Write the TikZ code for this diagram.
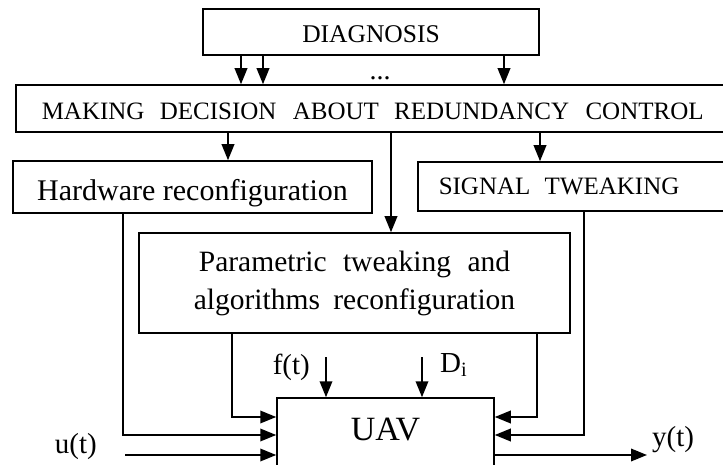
\documentclass[tikz,border=0pt]{standalone}
\usepackage{fontspec}
\setmainfont{Liberation Serif}
\usetikzlibrary{arrows.meta,positioning}

\tikzset{
  blk/.style={draw, line width=1.5pt, rectangle, inner sep=0pt},
  txtlow/.style={text height=#1, text depth=0pt},
  arr/.style={line width=1.9pt, -{Triangle[length=16pt,width=12.5pt]}},
  lbl/.style={inner sep=0pt, font=\fontsize{29}{30}\selectfont},
}

\begin{document}
\begin{tikzpicture}[x=1pt,y=-1pt]
	\clip (0,0) rectangle (723,465);
	% Define blocks
	\node[blk, txtlow=22pt, minimum width=336pt, minimum height=46pt,
	      font=\fontsize{25.5}{30}\selectfont] (diag) at (371,32) {DIAGNOSIS};
	\node[blk, txtlow=23pt, anchor=west, minimum height=47pt, text width=700pt,
	      inner xsep=26pt, align=left, font=\fontsize{25}{30}\selectfont] (dec) at (15,108.5)
	      {MAKING\hspace{7pt} DECISION\hspace{8pt} ABOUT\hspace{7pt} REDUNDANCY\hspace{8pt} CONTROL};
	\node[blk, txtlow=28pt, minimum width=359pt, minimum height=52pt,
	      font=\fontsize{30}{32}\selectfont] (hw) at (192.5,187) {Hardware reconfiguration};
	\node[blk, txtlow=17pt, anchor=west, minimum height=49pt, text width=300pt,
	      inner xsep=21pt, align=left, font=\fontsize{25}{30}\selectfont] (sig) at (417,186.5)
	      {SIGNAL\hspace{6pt} TWEAKING};
	\node[blk, minimum width=431pt, minimum height=100pt, align=center,
	      font=\fontsize{29.5}{38}\selectfont] (par) at (354.5,283)
	      {Parametric\hspace{9pt} tweaking\hspace{9pt} and\\algorithms\hspace{6pt} reconfiguration};
	\node[blk, text height=10pt, text depth=23pt, minimum width=217pt, minimum height=97pt,
	      font=\fontsize{34}{36}\selectfont] (uav) at (385.5,446.5) {UAV};
	% Connection points
	\coordinate (d1) at (241,0);
	\coordinate (d2) at (263,0);
	\coordinate (d3) at (504,0);
	\coordinate (m1) at (228,0);
	\coordinate (m2) at (391,0);
	\coordinate (m3) at (540,0);
	\coordinate (hwl) at (123,435);
	\coordinate (parl) at (232,417);
	\coordinate (parr) at (537,417);
	\coordinate (sigr) at (584,435);
	\coordinate (uin) at (125,455);
	\coordinate (yout) at (647,455);
	\coordinate (fin) at (326,357);
	\coordinate (din) at (422,357);
	% Labels
	\node[inner sep=0pt, anchor=base, font=\fontsize{28}{30}\selectfont] (dots) at (380,80) {...};
	\node[lbl, left=28pt of uin, yshift=8pt] (ut) {u(t)};
	\node[lbl, right=5pt of yout, yshift=15pt] (yt) {y(t)};
	\node[lbl, left=16pt of fin, yshift=-10pt] (ft) {f(t)};
	\node[lbl, right=18pt of din, yshift=-8pt] (di) {D\textsubscript{i}};
	% Connect the blocks
	\draw[arr] (diag.south -| d1) -- (dec.north -| d1);
	\draw[arr] (diag.south -| d2) -- (dec.north -| d2);
	\draw[arr] (diag.south -| d3) -- (dec.north -| d3);
	\draw[arr] (dec.south -| m1) -- (hw.north -| m1);
	\draw[arr] (dec.south -| m2) -- (par.north -| m2);
	\draw[arr] (dec.south -| m3) -- (sig.north -| m3);
	\draw[arr] (hw.south -| hwl) |- (uav.west |- hwl);
	\draw[arr] (par.south -| parl) |- (uav.west |- parl);
	\draw[arr] (par.south -| parr) |- (uav.east |- parr);
	\draw[arr] (sig.south -| sigr) |- (uav.east |- sigr);
	\draw[arr] (uin) -- (uav.west |- uin);
	\draw[arr] (uav.east |- yout) -- (yout);
	\draw[arr] (fin) -- (uav.north -| fin);
	\draw[arr] (din) -- (uav.north -| din);
\end{tikzpicture}
\end{document}
